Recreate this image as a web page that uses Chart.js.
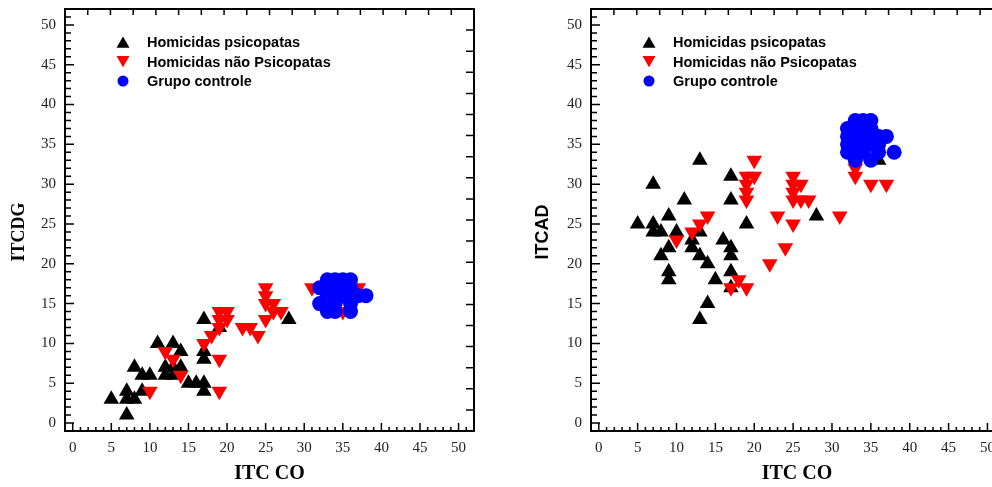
<!DOCTYPE html>
<html>
<head>
<meta charset="utf-8">
<script src="https://cdn.jsdelivr.net/npm/chart.js@4.4.0/dist/chart.umd.min.js"></script>
<style>
  html, body { margin: 0; padding: 0; background: #fff; overflow: hidden; width: 992px; height: 487px; }
  .box { position: absolute; top: 0; width: 496px; height: 487px; }
</style>
</head>
<body>
<div class="box" style="left:0"><canvas id="graph1" width="496" height="487"></canvas></div>
<div class="box" style="left:526px"><canvas id="graph2" width="496" height="487"></canvas></div>
<script>
// axis tick labels (both axes, both charts)
const tickValues = [0, 5, 10, 15, 20, 25, 30, 35, 40, 45, 50];
const legendLabels = ['Homicidas psicopatas', 'Homicidas não Psicopatas', 'Grupo controle'];

// left chart: ITC CO (x) vs ITCDG (y)
const itcdgPsicopatas = [[5,3],[7,4],[7,3],[8,3],[7,1],[9,4],[8,7],[9,6],[10,6],[11,10],[13,10],[14,9],
  [12,7],[13,7],[14,7],[12,6],[13,6],[15,5],[16,5],[17,5],[17,4],[17,13],[17,9],[17,8],[19,12],[28,13]];
const itcdgNaoPsicopatas = [[10,4],[12,9],[13,8],[14,6],[19,4],[19,8],[17,10],[18,11],[19,12],[19,14],[20,14],
  [19,13],[20,13],[22,12],[23,12],[24,11],[25,17],[25,16],[25,15],[26,15],[26,14],[27,14],[25,13],[31,17],
  [37,17],[33,15],[35,14]];
const itcdgControle = [[32,17],[33,17],[34,17],[35,17],[36,17],[33,18],[34,18],[35,18],[36,18],[33,16],[34,16],
  [35,16],[36,16],[37,16],[38,16],[32,15],[34,15],[36,15],[33,14],[34,14],[36,14]];

// right chart: ITC CO (x) vs ITCAD (y)
const itcadPsicopatas = [[13,33],[7,30],[17,31],[11,28],[17,28],[9,26],[5,25],[7,25],[7,24],[8,24],[10,24],
  [19,25],[13,24],[12,23],[12,22],[9,22],[8,21],[13,21],[14,20],[16,23],[17,22],[17,21],[9,19],[9,18],[15,18],
  [17,19],[17,17],[14,15],[13,13],[28,26],[36,33]];
const itcadNaoPsicopatas = [[20,33],[19,31],[20,31],[19,30],[19,29],[19,28],[25,31],[25,30],[26,30],[25,29],
  [25,28],[26,28],[27,28],[14,26],[13,25],[12,24],[10,23],[23,26],[25,25],[24,22],[22,20],[18,18],[17,17],
  [19,17],[31,26],[33,32],[33,31],[35,30],[37,30]];
const itcadControle = [[33,38],[34,38],[35,38],[32,37],[33,37],[34,37],[35,37],[32,36],[33,36],[34,36],[35,36],
  [36,36],[37,36],[32,35],[33,35],[34,35],[35,35],[36,35],[32,34],[33,34],[34,34],[36,34],[38,34],[33,33],[35,33]];

function toPoints(list) {
  return list.map(([x, y]) => ({ x, y }));
}

function drawMarker(ctx, style, x, y, r, rotation) {
  ctx.beginPath();
  if (style === 'circle') {
    ctx.arc(x, y, r, 0, Math.PI * 2);
  } else {
    const dir = rotation === 180 ? 1 : -1;
    const h = r * 1.5, w = r * Math.sqrt(3);
    ctx.moveTo(x, y + dir * h / 2);
    ctx.lineTo(x - w / 2, y - dir * h / 2);
    ctx.lineTo(x + w / 2, y - dir * h / 2);
    ctx.closePath();
  }
  ctx.fill();
}

// frame with inward ticks, y title and legend inside the plot
const framePlugin = {
  id: 'frame',
  afterDraw(chart, args, opts) {
    const { ctx, chartArea: a, scales: { x, y } } = chart;
    ctx.save();
    ctx.strokeStyle = '#000';
    ctx.lineWidth = 1.5;
    ctx.beginPath();
    for (let v = -1; v <= 52; v++) {
      const major = v % 5 === 0;
      const px = x.getPixelForValue(v);
      ctx.moveTo(px, a.bottom);
      ctx.lineTo(px, a.bottom - (major ? 8 : 4));
      const py = y.getPixelForValue(v);
      ctx.moveTo(a.left, py);
      ctx.lineTo(a.left + (major ? 9 : 6), py);
    }
    const w = a.right - a.left, h = a.bottom - a.top;
    for (let i = 1; i < 18; i++) {
      const px = a.left + i * w / 18;
      ctx.moveTo(px, a.top);
      ctx.lineTo(px, a.top + 6);
    }
    for (let i = 1; i < 20; i++) {
      const py = a.top + i * h / 20;
      ctx.moveTo(a.right, py);
      ctx.lineTo(a.right - 8, py);
    }
    ctx.stroke();
    ctx.lineWidth = 2;
    ctx.strokeRect(a.left, a.top, w, h);

    // y axis title
    ctx.save();
    ctx.translate(opts.titleX, 232);
    ctx.rotate(-Math.PI / 2);
    ctx.fillStyle = '#000';
    ctx.font = opts.titleFont;
    ctx.textAlign = 'center';
    ctx.textBaseline = 'middle';
    ctx.fillText(opts.title, 0, 0);
    ctx.restore();

    // legend
    ctx.font = 'bold 14.5px "Liberation Sans", Arial, sans-serif';
    ctx.textAlign = 'left';
    ctx.textBaseline = 'middle';
    chart.data.datasets.forEach((ds, i) => {
      const ly = a.top + 33 + i * 19.5;
      ctx.fillStyle = ds.backgroundColor;
      drawMarker(ctx, ds.pointStyle, a.left + 58, ly, ds.pointStyle === 'circle' ? 5.5 : 7.5, ds.rotation);
      ctx.fillStyle = '#000';
      ctx.fillText(ds.label, a.left + 82, ly + 1);
    });
    ctx.restore();
  }
};

function makeChart(canvasId, psico, nao, ctrl, yTitle, yTitleFont, titleX, padRight) {
  const tickFont = { family: '"Liberation Serif", "Times New Roman", serif', size: 15 };
  const ctx = document.getElementById(canvasId).getContext('2d');
  return new Chart(ctx, {
    type: 'scatter',
    data: {
      datasets: [{
        label: legendLabels[0],
        data: toPoints(psico),
        pointStyle: 'triangle',
        pointRadius: 9,
        backgroundColor: '#000000',
        borderWidth: 0,
        order: 3
      }, {
        label: legendLabels[1],
        data: toPoints(nao),
        pointStyle: 'triangle',
        rotation: 180,
        pointRadius: 9,
        backgroundColor: '#ff0000',
        borderWidth: 0,
        order: 2
      }, {
        label: legendLabels[2],
        data: toPoints(ctrl),
        pointStyle: 'circle',
        pointRadius: 7.5,
        backgroundColor: '#0000ff',
        borderWidth: 0,
        order: 1
      }]
    },
    options: {
      responsive: false,
      animation: false,
      events: [],
      layout: { padding: { left: 0, right: padRight, top: 9, bottom: 0 } },
      plugins: {
        legend: { display: false },
        tooltip: { enabled: false },
        frame: { title: yTitle, titleFont: yTitleFont, titleX: titleX }
      },
      scales: {
        x: {
          type: 'linear',
          position: 'bottom',
          min: -1,
          max: 52,
          grid: { display: false, drawTicks: false },
          border: { display: false },
          ticks: { font: tickFont, color: '#222', padding: 8, maxRotation: 0 },
          afterBuildTicks: s => { s.ticks = tickValues.map(v => ({ value: v })); },
          afterFit: s => { s.height = 56; s.paddingLeft = 0; s.paddingRight = 0; },
          title: {
            display: true,
            text: 'ITC CO',
            color: '#000',
            font: { family: '"Liberation Serif", "Times New Roman", serif', size: 20, weight: 'bold' },
            padding: { top: 0, bottom: 1 }
          }
        },
        y: {
          type: 'linear',
          position: 'left',
          min: -1,
          max: 52,
          grid: { display: false, drawTicks: false },
          border: { display: false },
          ticks: { font: tickFont, color: '#222', padding: 9 },
          afterBuildTicks: s => { s.ticks = tickValues.map(v => ({ value: v })); },
          afterFit: s => { s.width = 65; s.paddingTop = 0; s.paddingBottom = 0; }
        }
      }
    },
    plugins: [framePlugin]
  });
}

makeChart('graph1', itcdgPsicopatas, itcdgNaoPsicopatas, itcdgControle,
  'ITCDG', 'bold 18px "Liberation Serif", "Times New Roman", serif', 19, 22);
makeChart('graph2', itcadPsicopatas, itcadNaoPsicopatas, itcadControle,
  'ITCAD', 'bold 18px "Liberation Sans", Arial, sans-serif', 17, 19);
</script>
</body>
</html>
